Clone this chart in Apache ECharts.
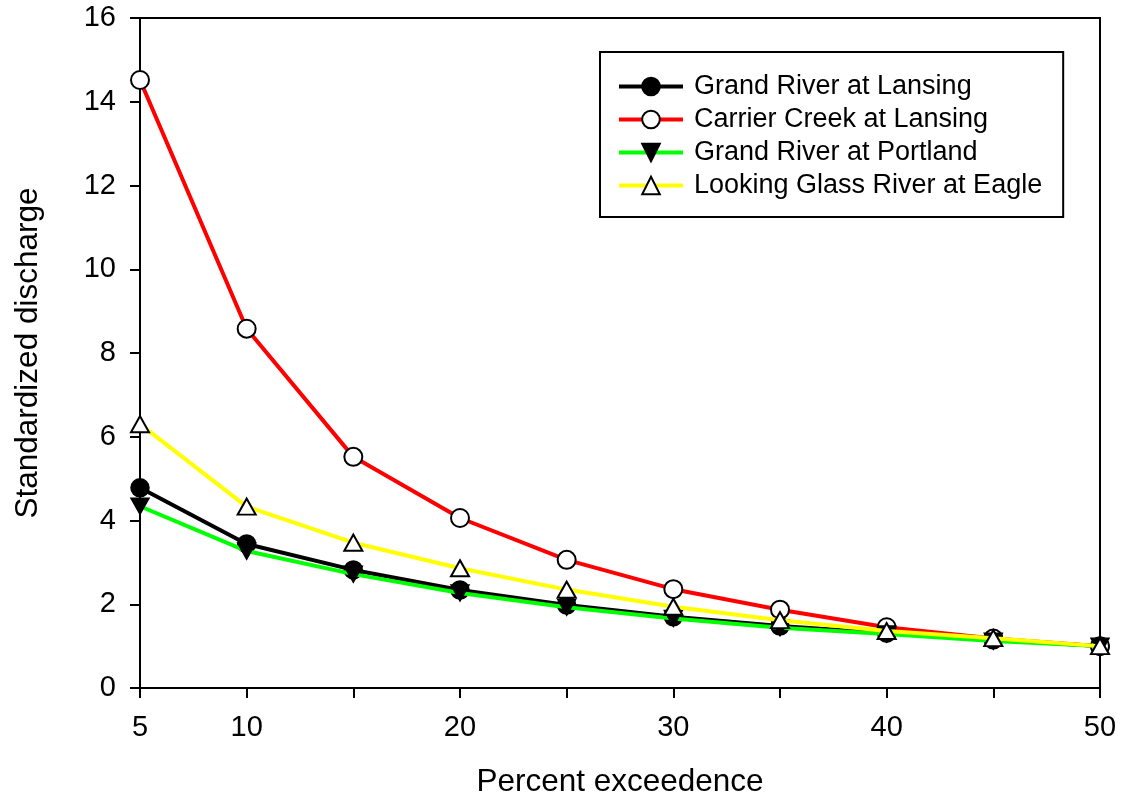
<!DOCTYPE html>
<html>
<head>
<meta charset="utf-8">
<script src="https://cdn.jsdelivr.net/npm/echarts@6/dist/echarts.min.js"></script>
<style>
html,body{margin:0;padding:0;background:#fff;}
#chart{width:1125px;height:805px;}
</style>
</head>
<body>
<div id="chart"></div>
<script>
const percentExceedence = [5, 10, 15, 20, 25, 30, 35, 40, 45, 50];
const grandLansing = [4.78, 3.44, 2.82, 2.34, 1.98, 1.70, 1.48, 1.31, 1.15, 1.00];
const carrierCreek = [14.52, 8.58, 5.52, 4.06, 3.06, 2.36, 1.87, 1.45, 1.18, 1.00];
const grandPortland = [4.34, 3.27, 2.72, 2.27, 1.93, 1.66, 1.44, 1.29, 1.12, 1.00];
const lookingGlass = [6.30, 4.33, 3.47, 2.86, 2.35, 1.94, 1.62, 1.36, 1.19, 1.00];
const xTickLabels = [5, 10, 20, 30, 40, 50];
const seriesNames = ['Grand River at Lansing', 'Carrier Creek at Lansing', 'Grand River at Portland', 'Looking Glass River at Eagle'];

const pairs = arr => percentExceedence.map((x, i) => [x, arr[i]]);
const font = 'Liberation Sans, Arial, sans-serif';

const chart = echarts.init(document.getElementById('chart'));
chart.setOption({
  animation: false,
  backgroundColor: '#fff',
  grid: { left: 140, right: 25, top: 18, bottom: 117, show: true, borderColor: '#000', borderWidth: 2, containLabel: false },
  legend: {
    orient: 'vertical', left: 600, top: 52,
    padding: [21, 21, 18, 17],
    borderColor: '#000', borderWidth: 2, backgroundColor: '#fff',
    itemWidth: 64, itemHeight: 22, itemGap: 6,
    lineStyle: { width: 4 },
    textStyle: { fontFamily: font, fontSize: 27, color: '#000', padding: [0, 0, 0, 6] },
    data: seriesNames
  },
  xAxis: {
    type: 'value', min: 5, max: 50, interval: 5,
    name: 'Percent exceedence', nameLocation: 'middle', nameGap: 78,
    nameTextStyle: { fontFamily: font, fontSize: 31.5, color: '#000' },
    axisLine: { show: true, lineStyle: { color: '#000', width: 2 } },
    axisTick: { show: true, inside: false, length: 10, lineStyle: { color: '#000', width: 2 } },
    axisLabel: { fontFamily: font, fontSize: 29, color: '#000', margin: 25,
      formatter: v => xTickLabels.indexOf(v) >= 0 ? String(v) : '' },
    splitLine: { show: false }
  },
  yAxis: {
    type: 'value', min: 0, max: 16, interval: 2,
    name: 'Standardized discharge', nameLocation: 'middle', nameGap: 96,
    nameTextStyle: { fontFamily: font, fontSize: 31.5, color: '#000' },
    axisLine: { show: true, lineStyle: { color: '#000', width: 2 } },
    axisTick: { show: true, inside: false, length: 10, lineStyle: { color: '#000', width: 2 } },
    axisLabel: { fontFamily: font, fontSize: 29, color: '#000', margin: 24 },
    splitLine: { show: false }
  },
  series: [
    { name: seriesNames[0], type: 'line', data: pairs(grandLansing),
      lineStyle: { color: '#000', width: 4 }, itemStyle: { color: '#000', borderColor: '#000', borderWidth: 1.5 },
      symbol: 'circle', symbolSize: 18, z: 2 },
    { name: seriesNames[1], type: 'line', data: pairs(carrierCreek),
      lineStyle: { color: '#ff0000', width: 4 }, itemStyle: { color: '#fff', borderColor: '#000', borderWidth: 2 },
      symbol: 'circle', symbolSize: 18, z: 3 },
    { name: seriesNames[2], type: 'line', data: pairs(grandPortland),
      lineStyle: { color: '#00ff00', width: 4 }, itemStyle: { color: '#000', borderColor: '#000', borderWidth: 1.5 },
      symbol: 'triangle', symbolRotate: 180, symbolSize: [18, 16], z: 4 },
    { name: seriesNames[3], type: 'line', data: pairs(lookingGlass),
      lineStyle: { color: '#ffff00', width: 4 }, itemStyle: { color: '#fff', borderColor: '#000', borderWidth: 2 },
      symbol: 'triangle', symbolSize: [18, 16], z: 5 }
  ]
});
</script>
</body>
</html>
